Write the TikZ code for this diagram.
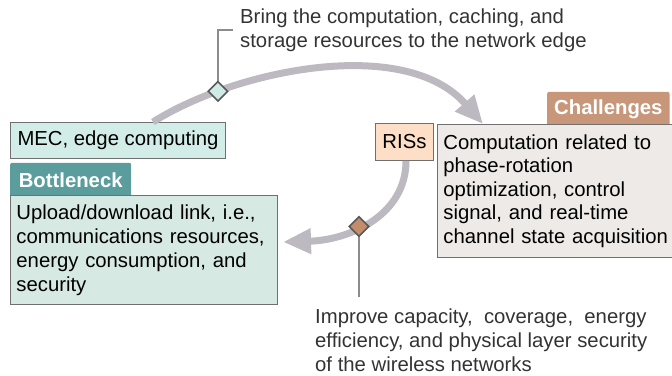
\documentclass[tikz,border=0pt]{standalone}
\usepackage{fontspec}
\setmainfont{Liberation Sans}
\usetikzlibrary{shapes.geometric,arrows.meta,calc}
\definecolor{arcc}{HTML}{BCBAC0}
\definecolor{mecfill}{HTML}{D2EDE8}
\definecolor{boxline}{HTML}{707070}
\definecolor{tealtab}{HTML}{5B9C9C}
\definecolor{bnfill}{HTML}{D6E9E2}
\definecolor{chtab}{HTML}{C8977A}
\definecolor{chfill}{HTML}{EDEAE7}
\definecolor{risfill}{HTML}{FCDFC6}
\definecolor{dtfill}{HTML}{CFEBE6}
\definecolor{dbfill}{HTML}{C38D6C}
\definecolor{calltext}{HTML}{333333}
\definecolor{callline}{HTML}{8C8C8C}
\tikzset{
  txt/.style={font=\fontsize{20.3}{24}\selectfont},
  box/.style={txt, draw=boxline, line width=0.9pt, inner xsep=6pt, inner ysep=0pt, align=left},
  tab/.style={font=\fontsize{20.3}{24}\selectfont\bfseries, text=white, inner xsep=7pt, inner ysep=0pt,
     rounded corners=2pt, anchor=south west},
  bigarc/.style={draw=arcc, line width=7pt, -{Triangle[length=28pt,width=24pt]}},
  dia/.style={diamond, draw=black!65, line width=1.6pt, minimum size=20pt, inner sep=0pt},
  callout/.style={draw=callline, line width=1.5pt},
  ctext/.style={txt, text=calltext, align=left, anchor=north west, inner sep=0pt}
}
\begin{document}
\begin{tikzpicture}[x=1pt,y=-1pt]
\useasboundingbox (0,0) rectangle (672,375);
% boxes
\node[box, fill=mecfill, anchor=north west, minimum width=215pt, minimum height=36pt] (mec) at (10,122) {MEC, edge computing};
\node[tab, fill=tealtab, minimum width=121pt, minimum height=34pt] (bntab) at (10,197) {Bottleneck};
\node[box, fill=bnfill, anchor=north west, text width=255pt, minimum height=109pt] (bn) at (10,195)
  {Upload/download link, i.e.,\\communications resources,\\energy consumption, and\\security};
\node[tab, fill=chtab, minimum width=122pt, minimum height=34pt] (chtab) at (547,126) {Challenges};
\node[box, fill=chfill, anchor=north west, text width=240pt, minimum height=133pt,
  font=\fontsize{20.3}{23.5}\selectfont] (ch) at (437,124)
  {Computation related to\\phase-rotation\\optimization, control\\signal, and real-time\\channel state acquisition};
\node[box, fill=risfill, anchor=north west, minimum width=58pt, minimum height=37pt, inner xsep=4pt] (ris) at (375,123) {RISs};
% arcs
\coordinate (a1s) at ($(mec.north west)+(143,0)$);
\coordinate (a1e) at (483,124);
\path[bigarc] (a1s) .. controls (235,70) and (405,35) .. coordinate[pos=0.22] (d1) (a1e);
\coordinate (a2s) at (ris.south -| 406,0);
\coordinate (a2e) at (283,242);
\path[bigarc] (a2s) .. controls (406,215) and (350,240) .. coordinate[pos=0.575] (d2) (a2e);
% callouts
\coordinate (c1) at (233,30);
\coordinate (c2) at ($(d2)+(0,66)$);
\draw[callout] (d1) |- (c1);
\draw[callout] (d2) -- (c2 |- 0,297);
\node[dia, fill=dtfill] (dia1) at (d1) {};
\node[dia, fill=dbfill] (dia2) at (d2) {};
% callout texts
\node[ctext] (t1) at (240,9) {Bring the computation, caching, and\\storage resources to the network edge};
\node[ctext] (t2) at (315,309) {Improve capacity,\ \ coverage,\ \ energy\\efficiency, and physical layer security\\of the wireless networks};
\end{tikzpicture}
\end{document}
